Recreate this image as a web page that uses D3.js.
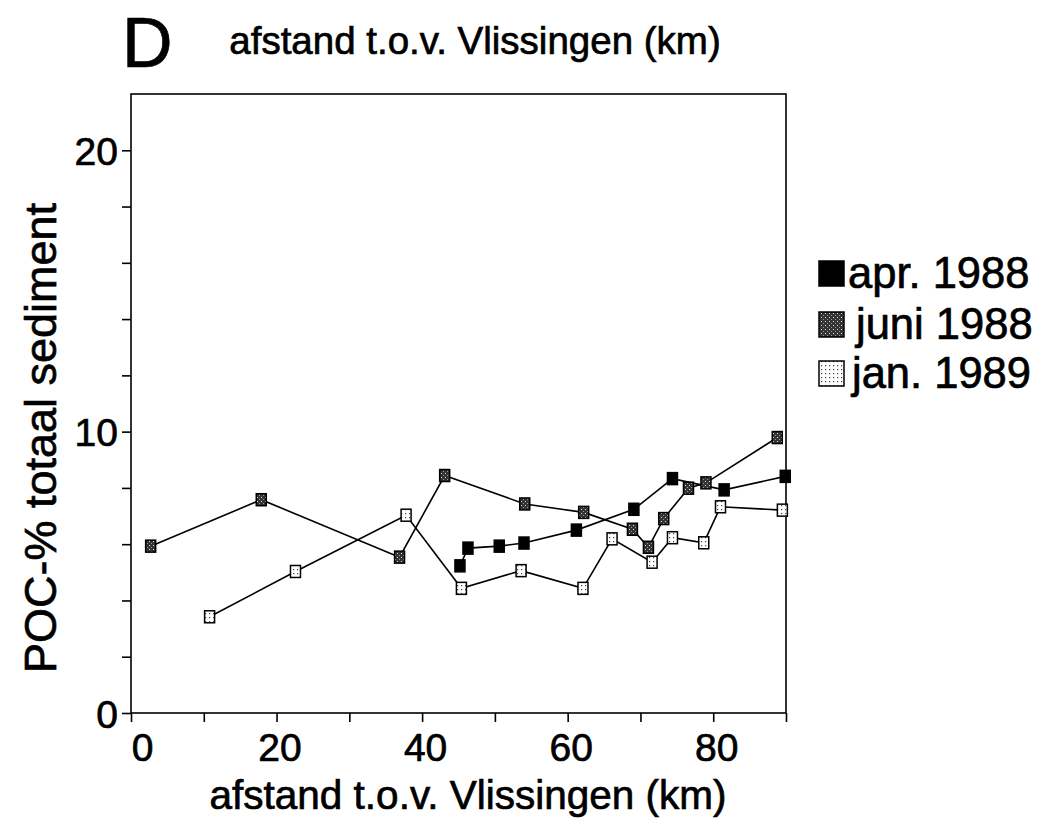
<!DOCTYPE html>
<html><head><meta charset="utf-8">
<script src="https://cdn.jsdelivr.net/npm/d3@7"></script>
<style>body{margin:0;background:#fff}svg{display:block}text{font-family:"Liberation Sans",Arial,sans-serif;fill:#000;stroke:#000;stroke-width:0.7px}</style>
</head><body><div id="chart"></div>
<script>
const aprX = [45.2, 46.3, 50.6, 54.0, 61.2, 69.1, 74.4, 81.5, 89.9];
const aprY = [5.23, 5.86, 5.93, 6.04, 6.50, 7.24, 8.33, 7.93, 8.41];
const juniX = [2.7, 17.9, 36.9, 43.1, 54.1, 62.2, 68.9, 71.1, 73.2, 76.6, 79.0, 88.8];
const juniY = [5.93, 7.58, 5.54, 8.44, 7.43, 7.13, 6.53, 5.89, 6.91, 7.99, 8.18, 9.79];
const janX = [10.8, 22.6, 37.8, 45.4, 53.6, 62.1, 66.1, 71.6, 74.4, 78.7, 81.0, 89.5];
const janY = [3.42, 5.03, 7.03, 4.43, 5.06, 4.43, 6.19, 5.36, 6.23, 6.05, 7.33, 7.21];
const seriesNames = ["apr. 1988", "juni 1988", "jan. 1989"];
const xTicks = [0,10,20,30,40,50,60,70,80,90];
const xTickLabels = [0,20,40,60,80];
const yTicks = [0,2,4,6,8,10,12,14,16,18,20];
const yTickLabels = [0,10,20];
const panelLetter = "D";
const xTitle = "afstand t.o.v. Vlissingen (km)";
const yTitle = "POC-% totaal sediment";

const W = 1062, H = 835;
const L = 131, R = 786, T = 94, B = 713;
const svg = d3.select("#chart").append("svg").attr("width", W).attr("height", H);
const defs = svg.append("defs");
const pj = defs.append("pattern").attr("id","pjuni").attr("patternUnits","userSpaceOnUse").attr("width",4).attr("height",4);
pj.append("rect").attr("width",4).attr("height",4).attr("fill","#333");
pj.append("rect").attr("x",1).attr("y",1).attr("width",1).attr("height",1).attr("fill","#ddd");
pj.append("rect").attr("x",3).attr("y",3).attr("width",1).attr("height",1).attr("fill","#999");
const pn = defs.append("pattern").attr("id","pjan").attr("patternUnits","userSpaceOnUse").attr("width",4).attr("height",4);
pn.append("rect").attr("width",4).attr("height",4).attr("fill","#fff");
pn.append("rect").attr("x",1).attr("y",1).attr("width",1.2).attr("height",1.2).attr("fill","#444");

const x = d3.scaleLinear().domain([0, 90]).range([L, R]);
const y = d3.scaleLinear().domain([0, 22]).range([B, T]);

svg.append("rect").attr("x", L).attr("y", T).attr("width", R - L).attr("height", B - T)
  .attr("fill", "none").attr("stroke", "#000").attr("stroke-width", 1.6);

const xAxis = d3.axisBottom(x).tickValues(xTicks).tickSize(9).tickFormat(d => xTickLabels.includes(d) ? d : "");
const gx = svg.append("g").attr("transform", `translate(0,${B})`).call(xAxis);
gx.select(".domain").remove();
gx.selectAll("line").attr("stroke-width", 1.6);
gx.selectAll("text").attr("font-size", 39).attr("dy", "0.95em").attr("y", 11)
  .attr("dx", d => d === 0 ? 11 : 3);

const yAxis = d3.axisLeft(y).tickValues(yTicks).tickSize(9).tickFormat(d => yTickLabels.includes(d) ? d : "");
const gy = svg.append("g").attr("transform", `translate(${L},0)`).call(yAxis);
gy.select(".domain").remove();
gy.selectAll("line").attr("stroke-width", 1.6);
gy.selectAll("text").attr("font-size", 39).attr("x", -13).attr("dy", "0.36em");

svg.append("text").attr("x", 122).attr("y", 67).attr("font-size", 70).text(panelLetter);
svg.append("text").attr("x", 475).attr("y", 54).attr("text-anchor", "middle").attr("font-size", 38.5).text(xTitle);
svg.append("text").attr("x", 468).attr("y", 809).attr("text-anchor", "middle").attr("font-size", 40.5).text(xTitle);
svg.append("text").attr("transform", "translate(56,438) rotate(-90)").attr("text-anchor", "middle").attr("font-size", 45).text(yTitle);

const fills = ["#000", "url(#pjuni)", "url(#pjan)"];
const data = [
  aprX.map((d, i) => [d, aprY[i]]),
  juniX.map((d, i) => [d, juniY[i]]),
  janX.map((d, i) => [d, janY[i]])
];
const line = d3.line().x(d => x(d[0])).y(d => y(d[1]));
data.forEach(pts => {
  svg.append("path").datum(pts).attr("d", line).attr("fill", "none").attr("stroke", "#000").attr("stroke-width", 1.6);
});
data.forEach((pts, k) => {
  svg.append("g").selectAll("rect").data(pts).join("rect")
    .attr("x", d => x(d[0]) - 5).attr("y", d => y(d[1]) - 6)
    .attr("width", 10).attr("height", 12)
    .attr("fill", fills[k]).attr("stroke", "#000").attr("stroke-width", 1.5);
});

const lg = svg.append("g");
const legY = [274, 325, 374];
const legTx = [848, 856, 852];
seriesNames.forEach((n, i) => {
  lg.append("rect").attr("x", 819).attr("y", legY[i] - 13).attr("width", 25).attr("height", 25)
    .attr("fill", fills[i]).attr("stroke", "#000").attr("stroke-width", 1.5);
  lg.append("text").attr("x", legTx[i]).attr("y", legY[i] + 14).attr("font-size", 43.5).text(n);
});
</script></body></html>
